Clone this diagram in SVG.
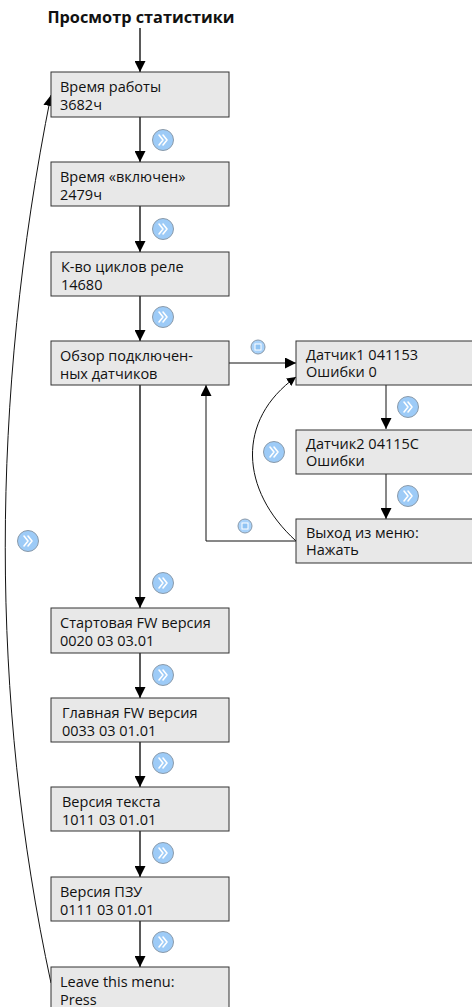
<svg xmlns="http://www.w3.org/2000/svg" width="472" height="1007" viewBox="0 0 472 1007">
<style>
.box{fill:#e8e8e8;stroke:#333;stroke-width:1}
.t{font-family:"Open Sans","Noto Sans",sans-serif;font-size:14.5px;fill:#111}
.title{font-family:"Open Sans","Noto Sans",sans-serif;font-size:16.3px;font-weight:bold;fill:#111}
.main{stroke:#5a5a5a;stroke-width:2;fill:none}
.thin{stroke:#111;stroke-width:1;fill:none}
</style>
<defs>
<marker id="ah" viewBox="0 0 10 10" refX="10" refY="5" markerWidth="9" markerHeight="9" markerUnits="userSpaceOnUse" orient="auto"><path d="M0,0 L10,5 L0,10 z" fill="#000"/></marker>
<marker id="ahb" viewBox="0 0 10 10" refX="10" refY="5" markerWidth="11" markerHeight="11" markerUnits="userSpaceOnUse" orient="auto"><path d="M0,0 L10,5 L0,10 z" fill="#000"/></marker>
<g id="fwd">
<circle r="10.5" fill="#9dcbf7" stroke="#8a9aaa" stroke-width="1"/>
<path d="M-4,-5 L0,0 L-4,5 M0,-5 L4,0 L0,5" fill="none" stroke="#fff" stroke-width="1.6" stroke-linejoin="round" stroke-linecap="round"/>
</g>
<g id="sq">
<circle r="7" fill="#a8d2fa" stroke="#8a9aaa" stroke-width="1"/>
<rect x="-3" y="-3" width="6" height="6" fill="#8fc3f3" stroke="#fff" stroke-width="1"/>
</g>
</defs>

<text class="title" x="141" y="23" text-anchor="middle">Просмотр статистики</text>

<g id="connectors">
<line class="main" x1="140" y1="28" x2="140" y2="72" marker-end="url(#ahb)"/>
<line class="main" x1="140" y1="117" x2="140" y2="162" marker-end="url(#ahb)"/>
<line class="main" x1="140" y1="206" x2="140" y2="252" marker-end="url(#ahb)"/>
<line class="main" x1="140" y1="296" x2="140" y2="341" marker-end="url(#ahb)"/>
<line class="main" x1="140" y1="385" x2="140" y2="608" marker-end="url(#ahb)"/>
<line class="main" x1="140" y1="653" x2="140" y2="698" marker-end="url(#ahb)"/>
<line class="main" x1="140" y1="742" x2="140" y2="787" marker-end="url(#ahb)"/>
<line class="main" x1="140" y1="831" x2="140" y2="877" marker-end="url(#ahb)"/>
<line class="main" x1="140" y1="921" x2="140" y2="967" marker-end="url(#ahb)"/>
<line class="thin" x1="229" y1="363" x2="296" y2="363" marker-end="url(#ahb)"/>
<line class="thin" x1="386" y1="385" x2="386" y2="429" marker-end="url(#ahb)"/>
<line class="thin" x1="386" y1="474" x2="386" y2="519" marker-end="url(#ahb)"/>
<polyline class="thin" points="296,541 206,541 206,385" marker-end="url(#ahb)"/>
<path class="thin" d="M296,541 C240,490 236,420 296,377" marker-end="url(#ah)"/>
<path class="thin" d="M51,983 C-10,700 -10,400 51,95" marker-end="url(#ahb)"/>
<use href="#fwd" x="163" y="140"/>
<use href="#fwd" x="163" y="229"/>
<use href="#fwd" x="163" y="317"/>
<use href="#fwd" x="163" y="583"/>
<use href="#fwd" x="163" y="675"/>
<use href="#fwd" x="163" y="763"/>
<use href="#fwd" x="163" y="853"/>
<use href="#fwd" x="163" y="942"/>
<use href="#fwd" x="408" y="407"/>
<use href="#fwd" x="408" y="496"/>
<use href="#fwd" x="274" y="452"/>
<use href="#fwd" x="28" y="541"/>
<use href="#sq" x="258" y="347"/>
<use href="#sq" x="245" y="526"/>
</g>

<g id="n1"><rect class="box" x="51" y="72" width="178" height="45"/><text class="t" x="60" y="92">Время работы</text><text class="t" x="60" y="110">3682ч</text></g>
<g id="n2"><rect class="box" x="51" y="162" width="178" height="44"/><text class="t" x="60" y="182">Время «включен»</text><text class="t" x="60" y="200">2479ч</text></g>
<g id="n3"><rect class="box" x="51" y="252" width="178" height="44"/><text class="t" x="61" y="272">К-во циклов реле</text><text class="t" x="61" y="290">14680</text></g>
<g id="n4"><rect class="box" x="51" y="341" width="178" height="44"/><text class="t" x="60" y="361">Обзор подключен-</text><text class="t" x="60" y="379">ных датчиков</text></g>
<g id="n5"><rect class="box" x="51" y="608" width="178" height="45"/><text class="t" x="60" y="628">Стартовая FW версия</text><text class="t" x="60" y="646">0020 03 03.01</text></g>
<g id="n6"><rect class="box" x="51" y="698" width="178" height="44"/><text class="t" x="62" y="718">Главная FW версия</text><text class="t" x="62" y="736">0033 03 01.01</text></g>
<g id="n7"><rect class="box" x="51" y="787" width="178" height="44"/><text class="t" x="62" y="807">Версия текста</text><text class="t" x="62" y="825">1011 03 01.01</text></g>
<g id="n8"><rect class="box" x="51" y="877" width="178" height="44"/><text class="t" x="60" y="897">Версия ПЗУ</text><text class="t" x="60" y="915">0111 03 01.01</text></g>
<g id="n9"><rect class="box" x="51" y="967" width="178" height="45"/><text class="t" x="60" y="987">Leave this menu:</text><text class="t" x="60" y="1005">Press</text></g>
<g id="r1"><rect class="box" x="296" y="341" width="180" height="44"/><text class="t" x="306" y="360">Датчик1 041153</text><text class="t" x="306" y="377">Ошибки 0</text></g>
<g id="r2"><rect class="box" x="296" y="430" width="180" height="44"/><text class="t" x="306" y="449">Датчик2 04115C</text><text class="t" x="306" y="466">Ошибки</text></g>
<g id="r3"><rect class="box" x="296" y="519" width="180" height="44"/><text class="t" x="306" y="538">Выход из меню:</text><text class="t" x="306" y="555">Нажать</text></g>
</svg>
